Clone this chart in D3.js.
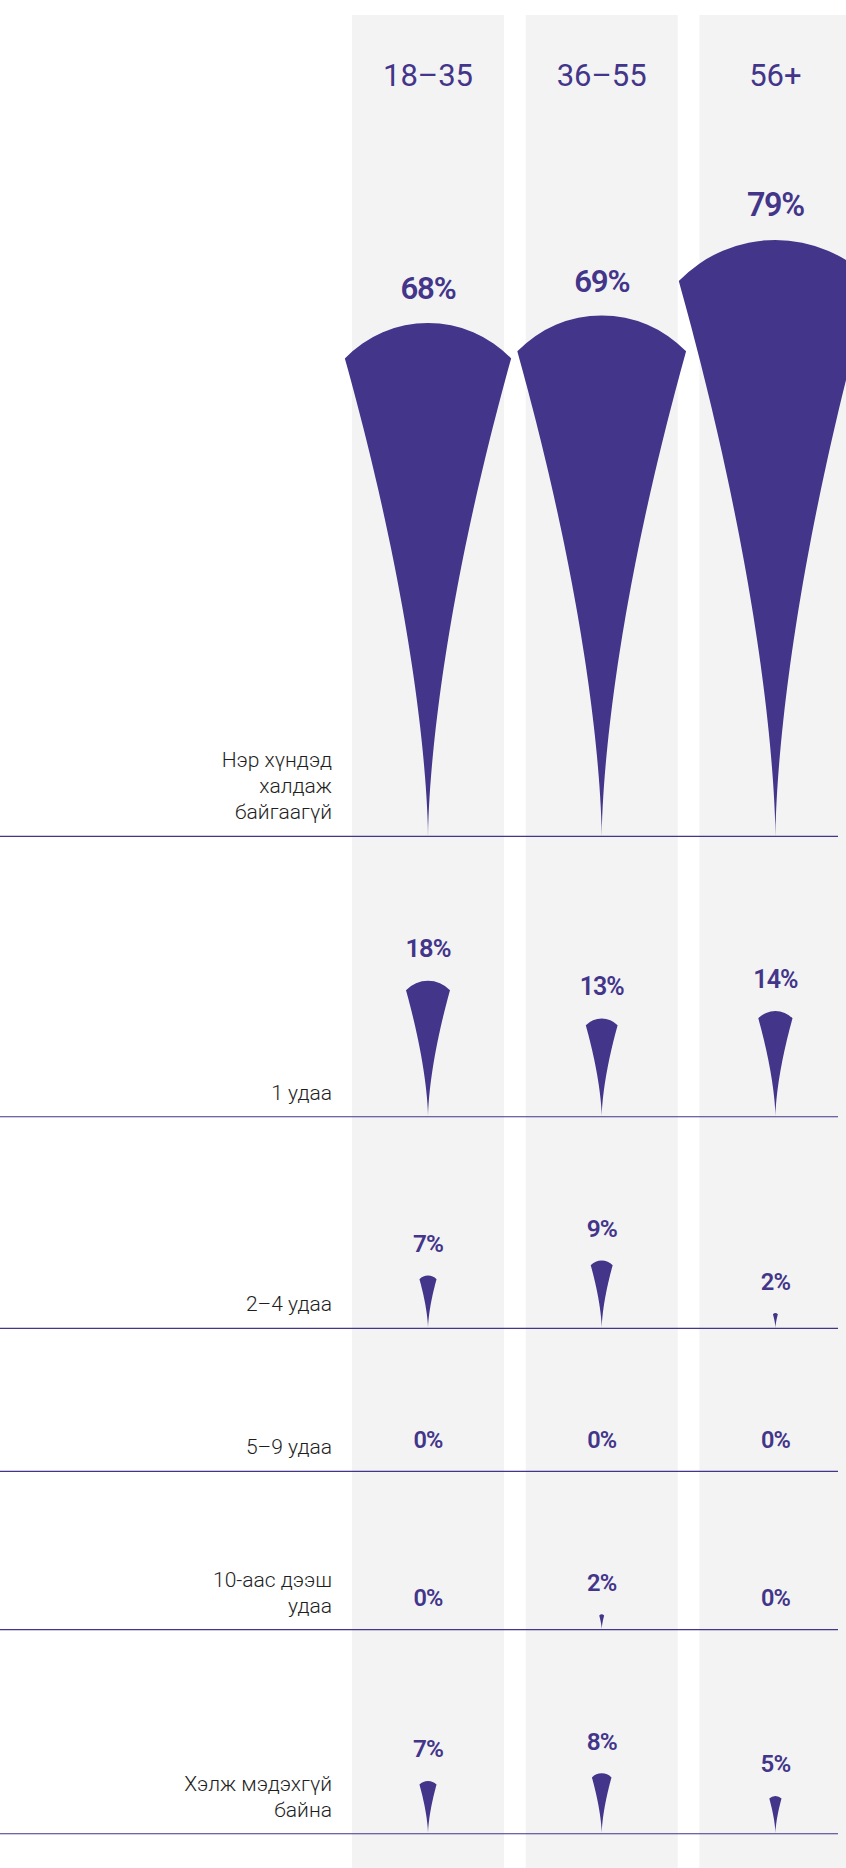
<!DOCTYPE html>
<html><head><meta charset="utf-8">
<script src="https://cdn.jsdelivr.net/npm/d3@7"></script>
<style>html,body{margin:0;padding:0;background:#fff;} svg{display:block;}</style>
</head><body>
<svg id="chart" width="846" height="1868"></svg>
<script>
// ---- data ----
const groups = ["18–35", "36–55", "56+"];
const categories = [
  ["Нэр хүндэд", "халдаж", "байгаагүй"],
  ["1 удаа"],
  ["2–4 удаа"],
  ["5–9 удаа"],
  ["10-аас дээш", "удаа"],
  ["Хэлж мэдэхгүй", "байна"]
];
const values_18_35 = [68, 18, 7, 0, 0, 7];
const values_36_55 = [69, 13, 9, 0, 2, 8];
const values_56plus = [79, 14, 2, 0, 0, 5];
const series = [values_18_35, values_36_55, values_56plus];

// ---- layout ----
const W = 846, H = 1868;
const purple = "#42358a";
const font = "Roboto, 'Noto Sans', sans-serif";
const svg = d3.select("#chart").attr("width", W).attr("height", H);

const x = d3.scaleBand().domain(groups).range([352, 851.4]).paddingInner(0.125).paddingOuter(0);
const h = d3.scaleLinear().domain([0, 100]).range([0, 755]);
const fs = d3.scaleLinear().domain([0, 100]).range([23.5, 34.75]);
const CAP = 0.711, GAP = 23.5, PAD = 102.8, TOP = 90.6;
const LABEL_X = 332, LINE_X2 = 838;

const rowMax = categories.map((c, i) => d3.max(series, s => s[i]));
const rowBottoms = [];
let acc = TOP;
rowMax.forEach(m => { acc += h(m) + GAP + fs(m) * CAP + PAD; rowBottoms.push(acc); });

// drop shape: concave sides w = A * t^P (t = fraction of height), round cap on top
const SIDE_A = 0.1816, SIDE_P = 1.6, CORNER_T = 0.931, N = 48;
function dropPath(cx, base, v) {
  const Hh = h(v);
  if (Hh <= 0) return null;
  const p = d3.path();
  for (let i = 0; i <= N; i++) {
    const t = CORNER_T * i / N;
    const px = cx - SIDE_A * Math.pow(t, SIDE_P) * Hh, py = base - t * Hh;
    if (i === 0) p.moveTo(px, py); else p.lineTo(px, py);
  }
  const wc = SIDE_A * Math.pow(CORNER_T, SIDE_P) * Hh, d = (1 - CORNER_T) * Hh;
  const r = (wc * wc + d * d) / (2 * d);
  const cy = base - Hh + r;
  const a0 = Math.atan2(d - r, -wc), a1 = Math.atan2(d - r, wc);
  p.arc(cx, cy, r, a0, a1, false);
  for (let i = N; i >= 0; i--) {
    const t = CORNER_T * i / N;
    p.lineTo(cx + SIDE_A * Math.pow(t, SIDE_P) * Hh, base - t * Hh);
  }
  p.closePath();
  return p.toString();
}

// column backgrounds
svg.append("g").selectAll("rect").data(groups).join("rect")
  .attr("x", d => x(d)).attr("y", 15)
  .attr("width", x.bandwidth()).attr("height", H - 15)
  .attr("fill", "#f3f3f3");

// headers
svg.append("g").selectAll("text").data(groups).join("text")
  .attr("x", d => x(d) + x.bandwidth() / 2).attr("y", 86)
  .attr("text-anchor", "middle")
  .attr("font-family", font).attr("font-size", 31).attr("font-weight", 400)
  .attr("fill", purple).text(d => d);

// drops + value labels
const cells = [];
groups.forEach((g, gi) => series[gi].forEach((v, ri) => cells.push({ g, v, ri })));

svg.append("g").selectAll("path").data(cells.filter(c => c.v > 0)).join("path")
  .attr("d", c => dropPath(x(c.g) + x.bandwidth() / 2, rowBottoms[c.ri], c.v))
  .attr("fill", purple);

svg.append("g").selectAll("text").data(cells).join("text")
  .attr("x", c => x(c.g) + x.bandwidth() / 2)
  .attr("y", c => rowBottoms[c.ri] - h(c.v) - GAP)
  .attr("text-anchor", "middle")
  .attr("font-family", font).attr("font-weight", 600)
  .attr("font-size", c => fs(c.v))
  .attr("letter-spacing", "-0.04em")
  .attr("fill", purple)
  .text(c => c.v + "%");

// row labels
const lab = svg.append("g").selectAll("text").data(categories).join("text")
  .attr("text-anchor", "end")
  .attr("font-family", font).attr("font-size", 21).attr("font-weight", 300)
  .attr("fill", "#1e1e1e");
lab.each(function (lines, i) {
  const n = lines.length;
  d3.select(this).selectAll("tspan").data(lines).join("tspan")
    .attr("x", LABEL_X)
    .attr("y", (l, j) => rowBottoms[i] - 17 - (n - 1 - j) * 26)
    .text(l => l);
});

// separator lines
svg.append("g").selectAll("line").data(rowBottoms).join("line")
  .attr("x1", 0).attr("x2", LINE_X2)
  .attr("y1", d => d).attr("y2", d => d)
  .attr("stroke", purple).attr("stroke-width", 1.2);
</script>
</body></html>
